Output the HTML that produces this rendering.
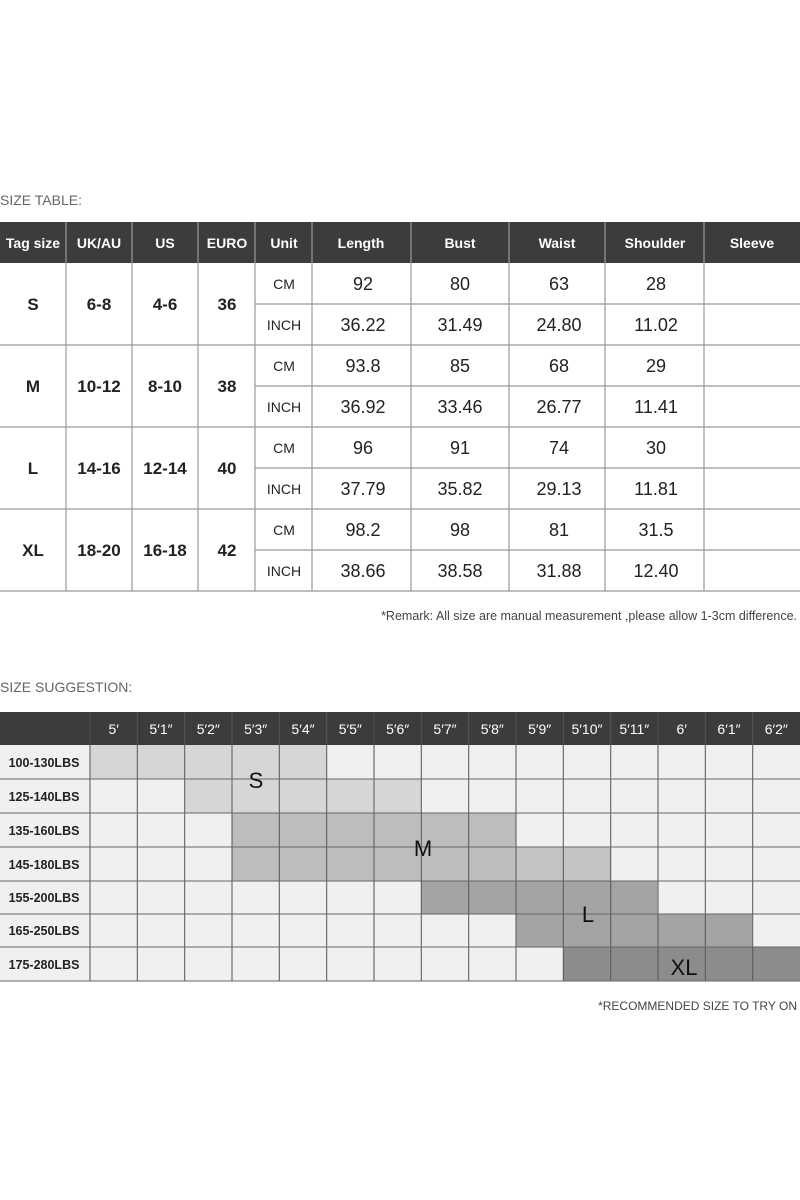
<!DOCTYPE html>
<html><head><meta charset="utf-8"><style>html,body{margin:0;padding:0;background:#fff}svg{display:block}text{font-family:"Liberation Sans",sans-serif}</style></head><body>
<svg width="800" height="1200" viewBox="0 0 800 1200" xmlns="http://www.w3.org/2000/svg">
<rect width="800" height="1200" fill="#fff"/>
<text x="0" y="205" font-size="14" fill="#666">SIZE TABLE:</text>
<!-- top table header -->
<rect x="0" y="222" width="800" height="41" fill="#3c3c3c"/>
<g fill="#fff" font-size="14" font-weight="bold" text-anchor="middle">
<text x="33" y="248">Tag size</text><text x="99" y="248">UK/AU</text><text x="165" y="248">US</text><text x="227" y="248">EURO</text><text x="284" y="248">Unit</text><text x="361" y="248">Length</text><text x="460" y="248">Bust</text><text x="557" y="248">Waist</text><text x="655" y="248">Shoulder</text><text x="752" y="248">Sleeve</text>
</g>
<g stroke="#999" stroke-width="1.2">
<line x1="66" y1="222" x2="66" y2="591"/><line x1="132" y1="222" x2="132" y2="591"/><line x1="198" y1="222" x2="198" y2="591"/><line x1="255" y1="222" x2="255" y2="591"/><line x1="312" y1="222" x2="312" y2="591"/><line x1="411" y1="222" x2="411" y2="591"/><line x1="509" y1="222" x2="509" y2="591"/><line x1="605" y1="222" x2="605" y2="591"/><line x1="704" y1="222" x2="704" y2="591"/>
<line x1="0" y1="345" x2="800" y2="345"/><line x1="0" y1="427" x2="800" y2="427"/><line x1="0" y1="509" x2="800" y2="509"/><line x1="0" y1="591" x2="800" y2="591"/>
<line x1="255" y1="304" x2="800" y2="304"/><line x1="255" y1="386" x2="800" y2="386"/><line x1="255" y1="468" x2="800" y2="468"/><line x1="255" y1="550" x2="800" y2="550"/>
</g>
<g fill="#222" font-size="17" font-weight="bold" text-anchor="middle">
<text x="33" y="310">S</text><text x="33" y="392">M</text><text x="33" y="474">L</text><text x="33" y="556">XL</text>
<text x="99" y="310">6-8</text><text x="99" y="392">10-12</text><text x="99" y="474">14-16</text><text x="99" y="556">18-20</text>
<text x="165" y="310">4-6</text><text x="165" y="392">8-10</text><text x="165" y="474">12-14</text><text x="165" y="556">16-18</text>
<text x="227" y="310">36</text><text x="227" y="392">38</text><text x="227" y="474">40</text><text x="227" y="556">42</text>
</g>
<g fill="#222" font-size="14" text-anchor="middle">
<text x="284" y="289">CM</text><text x="284" y="330">INCH</text><text x="284" y="371">CM</text><text x="284" y="412">INCH</text><text x="284" y="453">CM</text><text x="284" y="494">INCH</text><text x="284" y="535">CM</text><text x="284" y="576">INCH</text>
</g>
<g fill="#222" font-size="18" text-anchor="middle">
<text x="363" y="290">92</text><text x="363" y="331">36.22</text><text x="363" y="372">93.8</text><text x="363" y="413">36.92</text><text x="363" y="454">96</text><text x="363" y="495">37.79</text><text x="363" y="536">98.2</text><text x="363" y="577">38.66</text>
<text x="460" y="290">80</text><text x="460" y="331">31.49</text><text x="460" y="372">85</text><text x="460" y="413">33.46</text><text x="460" y="454">91</text><text x="460" y="495">35.82</text><text x="460" y="536">98</text><text x="460" y="577">38.58</text>
<text x="559" y="290">63</text><text x="559" y="331">24.80</text><text x="559" y="372">68</text><text x="559" y="413">26.77</text><text x="559" y="454">74</text><text x="559" y="495">29.13</text><text x="559" y="536">81</text><text x="559" y="577">31.88</text>
<text x="656" y="290">28</text><text x="656" y="331">11.02</text><text x="656" y="372">29</text><text x="656" y="413">11.41</text><text x="656" y="454">30</text><text x="656" y="495">11.81</text><text x="656" y="536">31.5</text><text x="656" y="577">12.40</text>
</g>
<text x="797" y="620" font-size="12.5" fill="#444" text-anchor="end">*Remark: All size are manual measurement ,please allow 1-3cm difference.</text>

<text x="0" y="692" font-size="14" fill="#666">SIZE SUGGESTION:</text>
<rect x="0" y="712" width="800" height="33" fill="#3c3c3c"/>
<rect x="0" y="745" width="800" height="236" fill="#f0f0f0"/>
<rect x="90" y="745" width="236.7" height="34" fill="#d6d6d6"/>
<rect x="184.7" y="779" width="236.6" height="34" fill="#d6d6d6"/>
<rect x="232" y="813" width="284" height="34" fill="#bdbdbd"/>
<rect x="232" y="847" width="284" height="34" fill="#bdbdbd"/>
<rect x="516" y="847" width="94.7" height="34" fill="#c4c4c4"/>
<rect x="421.3" y="881" width="236" height="33" fill="#a4a4a4"/>
<rect x="516" y="914" width="236" height="33" fill="#a4a4a4"/>
<rect x="563.3" y="947" width="236.7" height="34" fill="#8c8c8c"/>
<g stroke="#555" stroke-width="1">
<line x1="90" y1="712" x2="90" y2="981"/><line x1="137.3" y1="712" x2="137.3" y2="981"/><line x1="184.7" y1="712" x2="184.7" y2="981"/><line x1="232" y1="712" x2="232" y2="981"/><line x1="279.3" y1="712" x2="279.3" y2="981"/><line x1="326.7" y1="712" x2="326.7" y2="981"/><line x1="374" y1="712" x2="374" y2="981"/><line x1="421.3" y1="712" x2="421.3" y2="981"/><line x1="468.7" y1="712" x2="468.7" y2="981"/><line x1="516" y1="712" x2="516" y2="981"/><line x1="563.3" y1="712" x2="563.3" y2="981"/><line x1="610.7" y1="712" x2="610.7" y2="981"/><line x1="658" y1="712" x2="658" y2="981"/><line x1="705.3" y1="712" x2="705.3" y2="981"/><line x1="752.7" y1="712" x2="752.7" y2="981"/>
</g>
<g stroke="#666" stroke-width="1">
<line x1="0" y1="779" x2="800" y2="779"/><line x1="0" y1="813" x2="800" y2="813"/><line x1="0" y1="847" x2="800" y2="847"/><line x1="0" y1="881" x2="800" y2="881"/><line x1="0" y1="914" x2="800" y2="914"/><line x1="0" y1="947" x2="800" y2="947"/><line x1="0" y1="981" x2="800" y2="981"/>
</g>
<g fill="#fff" font-size="14" text-anchor="middle">
<text x="113.7" y="734">5′</text><text x="161" y="734">5′1″</text><text x="208.3" y="734">5′2″</text><text x="255.7" y="734">5′3″</text><text x="303" y="734">5′4″</text><text x="350.3" y="734">5′5″</text><text x="397.7" y="734">5′6″</text><text x="445" y="734">5′7″</text><text x="492.3" y="734">5′8″</text><text x="539.7" y="734">5′9″</text><text x="587" y="734">5′10″</text><text x="634.3" y="734">5′11″</text><text x="681.7" y="734">6′</text><text x="729" y="734">6′1″</text><text x="776.3" y="734">6′2″</text>
</g>
<g fill="#222" font-size="12.5" font-weight="bold" text-anchor="middle">
<text x="44" y="767">100-130LBS</text><text x="44" y="801">125-140LBS</text><text x="44" y="835">135-160LBS</text><text x="44" y="869">145-180LBS</text><text x="44" y="902">155-200LBS</text><text x="44" y="935">165-250LBS</text><text x="44" y="969">175-280LBS</text>
</g>
<g fill="#111" font-size="22" text-anchor="middle">
<text x="256" y="788">S</text><text x="423" y="856">M</text><text x="588" y="922">L</text><text x="684" y="975">XL</text>
</g>
<text x="797" y="1010" font-size="12" fill="#444" text-anchor="end">*RECOMMENDED SIZE TO TRY ON</text>
</svg>
</body></html>
